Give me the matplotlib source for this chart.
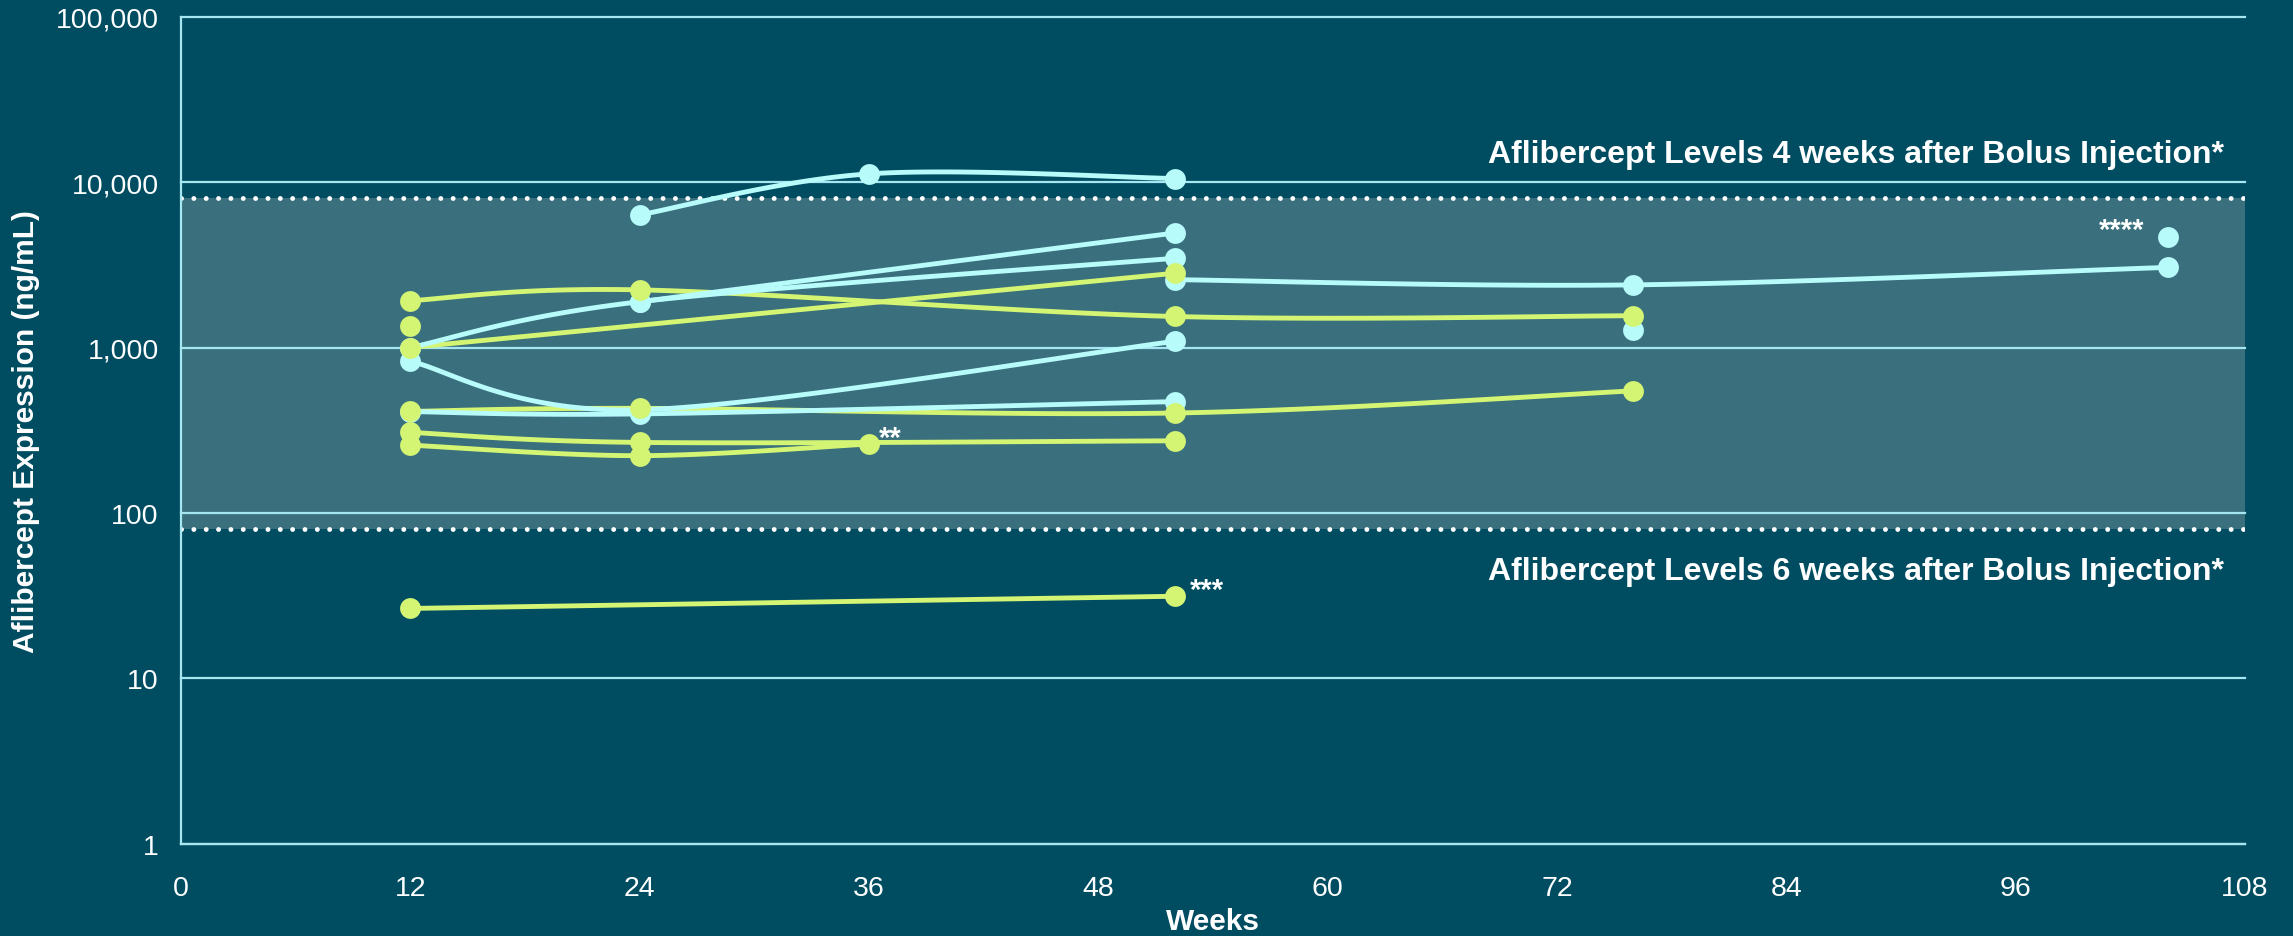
import numpy as np
import matplotlib.pyplot as plt
from matplotlib.ticker import FixedLocator, NullLocator

plt.rcParams['font.family'] = ['Liberation Sans', 'DejaVu Sans']

# cyan cohort, one list per patient
cyan_weeks = [[24, 36, 52], [12, 24, 52], [12, 24, 52], [24, 52],
              [52, 76, 104], [12, 24, 52], [76], [104]]
cyan_vals = [[6330, 11200, 10500], [825, 420, 1090], [1000, 1890, 3460], [1890, 4920],
             [2570, 2390, 3050], [410, 397, 471], [1280], [4630]]

# yellow cohort
yel_weeks = [[12, 24, 52, 76], [12, 52], [12], [12, 24, 52, 76],
             [12, 24, 52], [12, 24, 36], [12, 52]]
yel_vals = [[1920, 2230, 1540, 1556], [1000, 2810], [1355], [411, 429, 402, 547],
            [307, 267, 273], [257, 222, 261], [26.5, 31.4]]

band_lo, band_hi = 80, 8000
x_ticks = list(range(0, 109, 12))
y_ticks = [1, 10, 100, 1000, 10000, 100000]

bg = '#004d62'
band_col = '#3a6f7d'
grid_col = '#a6e6f0'
cyan = '#b8fbfb'
yellow = '#d4f573'


def smooth(x, y, n=40):
    # excel-style smoothed line: bezier with catmull-rom control points, in log space
    x = np.asarray(x, float)
    ly = np.log10(np.asarray(y, float))
    if len(x) < 3:
        return x, 10 ** ly
    p = np.column_stack([x, ly])
    t = np.linspace(0, 1, n)[:, None]
    out = []
    for i in range(len(p) - 1):
        p0 = p[max(i - 1, 0)]
        p1, p2 = p[i], p[i + 1]
        p3 = p[min(i + 2, len(p) - 1)]
        c1 = p1 + (p2 - p0) / 6
        c2 = p2 - (p3 - p1) / 6
        seg = (1 - t) ** 3 * p1 + 3 * (1 - t) ** 2 * t * c1 + 3 * (1 - t) * t ** 2 * c2 + t ** 3 * p2
        out.append(seg if i == 0 else seg[1:])
    s = np.vstack(out)
    return s[:, 0], 10 ** s[:, 1]


fig = plt.figure(figsize=(22.93, 9.37), dpi=100, facecolor=bg)
ax = fig.add_axes([0.0789, 0.0982, 0.9001, 0.8831])
ax.set_facecolor(bg)
ax.set_yscale('log')
ax.set_xlim(0, 108)
ax.set_ylim(1, 100000)

ax.axhspan(band_lo, band_hi, color=band_col, zorder=0.5, lw=0)
for yv in y_ticks:
    ax.axhline(yv, color=grid_col, lw=1.6, zorder=1, clip_on=False)
for yv in (band_lo, band_hi):
    ax.axhline(yv, color='white', lw=3.5, ls=(0, (0.01, 2.53)),
               dash_capstyle='round', zorder=1.5)

for wk, v in zip(yel_weeks, yel_vals):
    sx, sy = smooth(wk, v)
    ax.plot(sx, sy, color=yellow, lw=3.5, zorder=2, solid_capstyle='round')
for wk, v in zip(cyan_weeks, cyan_vals):
    sx, sy = smooth(wk, v)
    ax.plot(sx, sy, color=cyan, lw=3.5, zorder=2.1, solid_capstyle='round')
for wk, v in zip(cyan_weeks, cyan_vals):
    ax.plot(wk, v, 'o', color=cyan, ms=15, mew=0, zorder=3)
for wk, v in zip(yel_weeks, yel_vals):
    ax.plot(wk, v, 'o', color=yellow, ms=15, mew=0, zorder=3.1)

star_kw = dict(textcoords='offset points', color='white', fontsize=21,
               fontweight='bold', va='center', zorder=4)
ax.annotate('**', (yel_weeks[5][-1], yel_vals[5][-1]), xytext=(7, 4.5), ha='left', **star_kw)
ax.annotate('***', (yel_weeks[6][-1], yel_vals[6][-1]), xytext=(11, 4.5), ha='left', **star_kw)
ax.annotate('****', (cyan_weeks[7][-1], cyan_vals[7][-1]), xytext=(-17, 5.5), ha='right', **star_kw)

ax.text(106.9, 13200, 'Aflibercept Levels 4 weeks after Bolus Injection*', color='white',
        fontsize=23, fontweight='bold', ha='right', va='baseline')
ax.text(106.9, 39.9, 'Aflibercept Levels 6 weeks after Bolus Injection*', color='white',
        fontsize=23, fontweight='bold', ha='right', va='baseline')

ax.xaxis.set_major_locator(FixedLocator(x_ticks))
ax.yaxis.set_major_locator(FixedLocator(y_ticks))
ax.yaxis.set_minor_locator(NullLocator())
ax.set_yticklabels([f'{v:,}' for v in y_ticks])
ax.tick_params(axis='both', length=0, labelsize=20.5, colors='white')
ax.tick_params(axis='y', pad=16)
ax.tick_params(axis='x', pad=22)

for side in ('top', 'right'):
    ax.spines[side].set_visible(False)
for side in ('left', 'bottom'):
    ax.spines[side].set_color(grid_col)
    ax.spines[side].set_linewidth(1.6)

ax.set_xlabel('Weeks', color='white', fontsize=21.5, fontweight='bold', labelpad=5)
ax.set_ylabel('Aflibercept Expression (ng/mL)', color='white', fontsize=21.5, fontweight='bold')
ax.yaxis.set_label_coords(-0.0683, 0.5)

fig.savefig('out.png', dpi=100, facecolor=bg)
